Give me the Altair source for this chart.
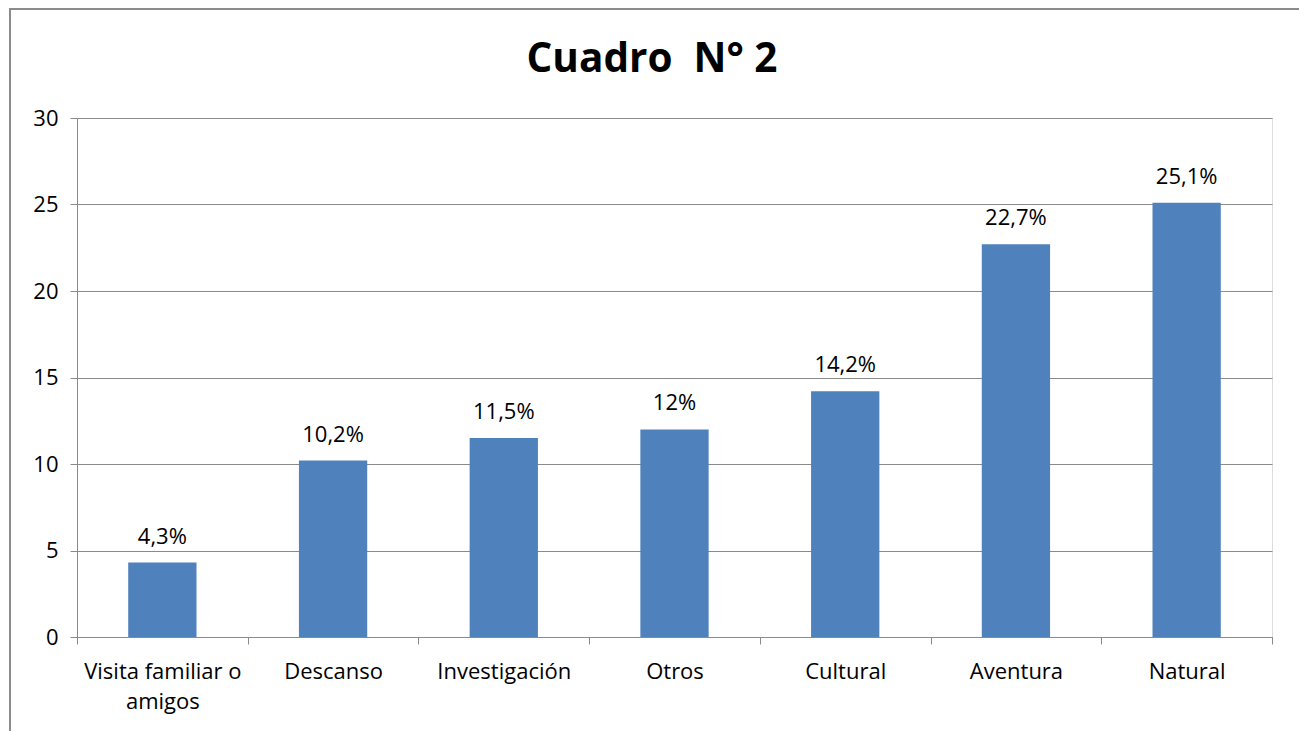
import altair as alt
import pandas as pd

categories = ["Visita familiar o amigos", "Descanso", "Investigación", "Otros",
              "Cultural", "Aventura", "Natural"]
values = [4.3, 10.2, 11.5, 12.0, 14.2, 22.7, 25.1]
value_labels = ["4,3%", "10,2%", "11,5%", "12%", "14,2%", "22,7%", "25,1%"]
y_ticks = [0, 5, 10, 15, 20, 25, 30]
title_text = "Cuadro\u00a0 N° 2"

df = pd.DataFrame({"cat": categories, "val": values, "lab": value_labels})

FONT = "Open Sans"
GRID = "#8a8a8a"
W, H = 1195, 519
FS = 22

x_enc = alt.X("cat:N", sort=categories, title=None,
              scale=alt.Scale(paddingInner=0, paddingOuter=0),
              axis=alt.Axis(labelAngle=0, tickBand="extent", tickSize=7,
                            tickColor=GRID, domainColor=GRID, labelPadding=17,
                            labelFontSize=FS, labelFont=FONT, labelColor="#000000",
                            labelLineHeight=30, labelLimit=300,
                            labelExpr="datum.label == 'Visita familiar o amigos' ? ['Visita familiar o', 'amigos'] : datum.label"))

y_enc = alt.Y("val:Q", title=None,
              scale=alt.Scale(domain=[0, 30], nice=False, zero=True),
              axis=alt.Axis(values=y_ticks, tickSize=7, tickColor=GRID, domainColor=GRID,
                            gridColor=GRID, gridWidth=1, grid=True, labelPadding=12,
                            labelFontSize=FS, labelFont=FONT, labelColor="#000000"))

bars = alt.Chart(df).mark_bar(color="#4F81BD", width=alt.RelativeBandSize(0.4)).encode(
    x=x_enc, y=y_enc)

texts = alt.Chart(df).mark_text(font=FONT, fontSize=FS, color="#000000",
                                 baseline="alphabetic", dy=-19).encode(
    x=alt.X("cat:N", sort=categories), y=alt.Y("val:Q"), text="lab:N")

border = alt.Chart(alt.Data(values=[{}])).mark_rect(
    fill=None, stroke="#8c8c8c", strokeWidth=2).encode(
    x=alt.value(-67), x2=alt.value(1223), y=alt.value(-109), y2=alt.value(640))

title = alt.Chart(alt.Data(values=[{"t": title_text}])).mark_text(
    font=FONT, fontSize=40.5, fontWeight="bold", color="#000000",
    align="center", baseline="alphabetic").encode(
    x=alt.value(575), y=alt.value(-46), text="t:N")

chart = alt.layer(border, bars, texts, title).properties(
    width=W, height=H,
    padding={"left": 69, "top": 110, "right": 27, "bottom": 120},
    autosize=alt.AutoSizeParams(type="none"),
).configure_view(stroke=None).configure(background="white")

chart.save("out.html", embed_options={"renderer": "svg", "actions": False})
